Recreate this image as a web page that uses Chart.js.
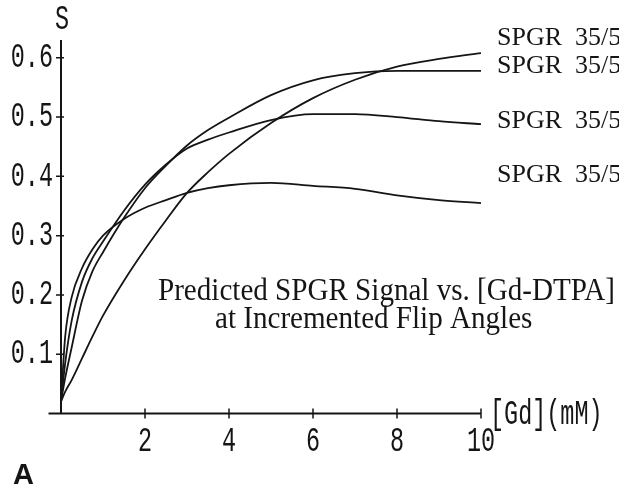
<!DOCTYPE html>
<html>
<head>
<meta charset="utf-8">
<script src="https://cdn.jsdelivr.net/npm/chart.js@4.4.1/dist/chart.umd.min.js"></script>
<style>
  body { margin: 0; background: #fff; }
  canvas { display: block; }
</style>
</head>
<body>
<canvas id="grafico" width="619" height="488"></canvas>
<script>
// [Gd] (mM) sample points
const gd = [0, 0.1, 0.25, 0.5, 0.75, 1, 1.5, 2, 2.5, 3, 3.5, 4, 5, 6, 7, 8, 9, 10];

// predicted signal, one curve per flip angle
const spgr1 = [0.02, 0.037, 0.056, 0.093, 0.13, 0.165, 0.224, 0.277, 0.326, 0.372, 0.407, 0.438, 0.49, 0.532, 0.563, 0.585, 0.598, 0.608];
const spgr2 = [0.02, 0.06, 0.11, 0.19, 0.24, 0.272, 0.33, 0.38, 0.418, 0.452, 0.478, 0.499, 0.537, 0.562, 0.574, 0.578, 0.578, 0.578];
const spgr3 = [0.02, 0.085, 0.155, 0.222, 0.262, 0.29, 0.342, 0.386, 0.42, 0.447, 0.462, 0.474, 0.495, 0.505, 0.505, 0.5, 0.493, 0.488];
const spgr4 = [0.02, 0.13, 0.195, 0.245, 0.277, 0.3, 0.328, 0.347, 0.36, 0.372, 0.38, 0.385, 0.389, 0.384, 0.379, 0.368, 0.36, 0.355];

const seriesNames = ['SPGR  35/5', 'SPGR  35/5', 'SPGR  35/5', 'SPGR  35/5'];
const labelBaselines = [45, 73, 128, 182];

const yTicks = [0.1, 0.2, 0.3, 0.4, 0.5, 0.6];
const xTicks = [2, 4, 6, 8, 10];

const tinta = '#151515';

function toPoints(ys) {
    return gd.map((x, i) => ({ x: x, y: ys[i] }));
}

// old terminal style font: tall and narrow
function monoText(ctx, txt, x, y, align) {
    ctx.save();
    ctx.font = '35px "Liberation Mono"';
    ctx.textAlign = align;
    ctx.textBaseline = 'middle';
    ctx.translate(x, y);
    ctx.scale(0.67, 1);
    ctx.fillText(txt, 0, 0);
    ctx.restore();
}

const eixos = {
    id: 'eixos',
    afterDraw(chart) {
        const ctx = chart.ctx;
        const xs = chart.scales.x;
        const ys = chart.scales.y;
        const x0 = xs.getPixelForValue(0);
        const y0 = ys.getPixelForValue(0);

        ctx.save();
        ctx.strokeStyle = tinta;
        ctx.fillStyle = tinta;
        ctx.lineWidth = 2;

        // axis lines
        ctx.beginPath();
        ctx.moveTo(x0, y0);
        ctx.lineTo(x0, ys.getPixelForValue(ys.max));
        ctx.moveTo(x0 - 12.5, y0);
        ctx.lineTo(xs.getPixelForValue(10), y0);
        ctx.stroke();

        // ticks crossing the axes
        ctx.lineWidth = 1.5;
        ctx.beginPath();
        yTicks.forEach(v => {
            const py = ys.getPixelForValue(v);
            ctx.moveTo(x0 - 5, py);
            ctx.lineTo(x0 + 3, py);
        });
        xTicks.forEach(v => {
            const px = xs.getPixelForValue(v);
            ctx.moveTo(px, y0 - 5);
            ctx.lineTo(px, y0 + 5);
        });
        ctx.stroke();

        yTicks.forEach(v => monoText(ctx, v.toFixed(1), x0 - 8, ys.getPixelForValue(v), 'right'));
        xTicks.forEach(v => monoText(ctx, String(v), xs.getPixelForValue(v), y0 + 28, 'center'));
        monoText(ctx, 'S', x0 + 1, 20, 'center');
        monoText(ctx, '[Gd](mM)', xs.getPixelForValue(10) + 9, y0 + 1, 'left');

        // curve labels
        ctx.font = '26px "Liberation Serif"';
        ctx.textAlign = 'left';
        ctx.textBaseline = 'alphabetic';
        seriesNames.forEach((t, i) => ctx.fillText(t, 497, labelBaselines[i]));

        // caption inside the plot
        const linha1 = 'Predicted SPGR Signal vs. [Gd-DTPA]';
        const linha2 = 'at Incremented Flip Angles';
        ctx.font = '31px "Liberation Serif"';
        const sx = 457 / ctx.measureText(linha1).width;
        ctx.save();
        ctx.translate(158, 300);
        ctx.scale(sx, 1);
        ctx.fillText(linha1, 0, 0);
        ctx.restore();
        ctx.save();
        ctx.translate(215, 328);
        ctx.scale(sx, 1);
        ctx.fillText(linha2, 0, 0);
        ctx.restore();

        // panel letter
        ctx.font = 'bold 29px "Liberation Sans"';
        ctx.fillText('A', 13, 484);
        ctx.restore();
    }
};

const estilo = { borderColor: tinta, borderWidth: 1.8, pointRadius: 0, fill: false, cubicInterpolationMode: 'monotone' };

new Chart(document.getElementById('grafico').getContext('2d'), {
    type: 'line',
    data: {
        datasets: [spgr1, spgr2, spgr3, spgr4].map((s, i) => Object.assign({ label: seriesNames[i], data: toPoints(s) }, estilo))
    },
    options: {
        responsive: false,
        animation: false,
        layout: { padding: { left: 61, right: 138, top: 40, bottom: 74.5 } },
        plugins: {
            legend: { display: false },
            tooltip: { enabled: false }
        },
        scales: {
            x: { type: 'linear', min: 0, max: 10, display: false },
            y: { type: 'linear', min: 0, max: 0.63, display: false }
        }
    },
    plugins: [eixos]
});
</script>
</body>
</html>
